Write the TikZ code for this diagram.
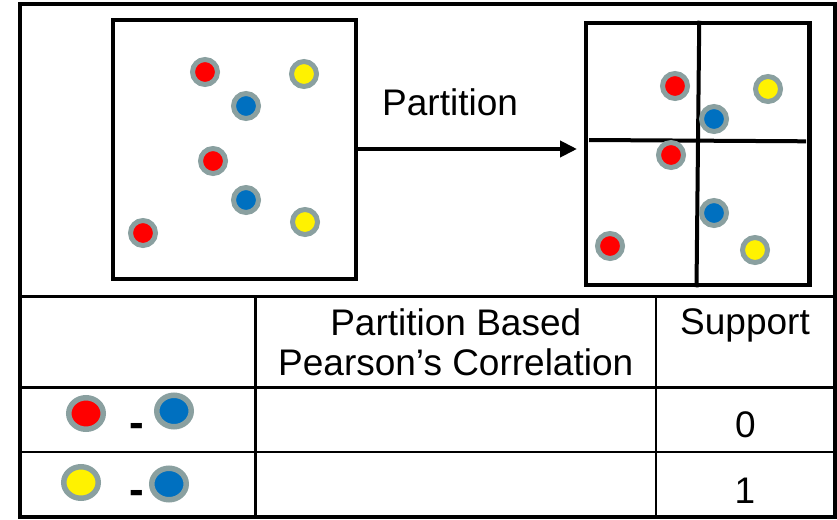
\documentclass[tikz,border=0pt]{standalone}
\usepackage{fontspec}
\setmainfont{Liberation Sans}
\usetikzlibrary{arrows.meta,positioning,shapes.geometric}
\definecolor{ringgrey}{RGB}{138,160,160}
\definecolor{dotblue}{RGB}{0,112,192}

\begin{document}
\begin{tikzpicture}[x=1pt, y=-1pt, >={Triangle[length=17pt,width=16pt]},
    every node/.style={font=\fontsize{37}{40}\selectfont, inner sep=0pt},
    dot/.style={circle, draw=ringgrey, line width=5pt, minimum size=25pt},
    keydot/.style={ellipse, draw=ringgrey, line width=5.5pt, minimum width=34.5pt, minimum height=31.5pt},
    pairsep/.style={font=\fontsize{44}{44}\selectfont\bfseries, anchor=base},
    box/.style={draw, rectangle},
    rule/.style={line width=2.5pt}]

    \useasboundingbox (0,0) rectangle (837,519);
    \draw[line width=4pt] (19.5,4.5) rectangle (834.5,516.5);

    % the two boxes and the arrow
    \node[box, line width=3.5pt, minimum width=243pt, minimum height=259pt]   (raw)  at (234.5,149.5) {};
    \node[box, line width=4.5pt, minimum width=223.5pt, minimum height=262pt] (part) at (697.75,154)  {};
    \draw[line width=4pt] ([xshift=1.5pt]part.north) -- ([xshift=-1.25pt]part.south);
    \draw[line width=4pt] (589,140) -- (806,141.3);

    \draw[->, line width=4pt, shorten >=6.75pt] (raw.east |- 0,149) -- (part.west |- 0,149);
    \node[anchor=base west] (lbl) at (382,115) {Partition};

    % points before
    \node[dot, fill=red]     (r1) at (205,72)  {};
    \node[dot, fill=yellow]  (y1) at (304,74)  {};
    \node[dot, fill=dotblue] (b1) at (246,106) {};
    \node[dot, fill=red]     (r2) at (213,161) {};
    \node[dot, fill=dotblue] (b2) at (246,200) {};
    \node[dot, fill=yellow]  (y2) at (305,222) {};
    \node[dot, fill=red]     (r3) at (143,233) {};

    % points after
    \node[dot, fill=red]     (pr1) at (675,86)  {};
    \node[dot, fill=yellow]  (py1) at (768,89)  {};
    \node[dot, fill=dotblue] (pb1) at (714,119) {};
    \node[dot, fill=red]     (pr2) at (671,155) {};
    \node[dot, fill=dotblue] (pb2) at (714,213) {};
    \node[dot, fill=red]     (pr3) at (610,246) {};
    \node[dot, fill=yellow]  (py2) at (755,250) {};

    % table
    \draw[line width=3pt] (19.5,296) -- (834.5,296);
    \draw[rule] (255.5,296) -- (255.5,516.5);
    \draw[rule] (656,296) -- (656,516.5);
    \draw[rule] (19.5,387.5) -- (834.5,387.5);
    \draw[rule] (19.5,452) -- (834.5,452);

    \node[anchor=base, align=center] (hdr) at (455.75,375) {Partition Based\\Pearson’s Correlation};
    \node[anchor=base] (sup) at (745,334) {Support};
    \node[anchor=base] (s0)  at (745.5,437) {0};
    \node[anchor=base] (s1)  at (745,503) {1};

    \node[keydot, fill=red]     (kr)  at (86,413.5) {};
    \node[pairsep]              (d1)  at (137,437.5) {-};
    \node[keydot, fill=dotblue] (kb1) at (174,411) {};
    \node[keydot, fill=yellow]  (ky)  at (81,482.5) {};
    \node[pairsep]              (d2)  at (137,504) {-};
    \node[keydot, fill=dotblue] (kb2) at (169,484) {};

\end{tikzpicture}
\end{document}
